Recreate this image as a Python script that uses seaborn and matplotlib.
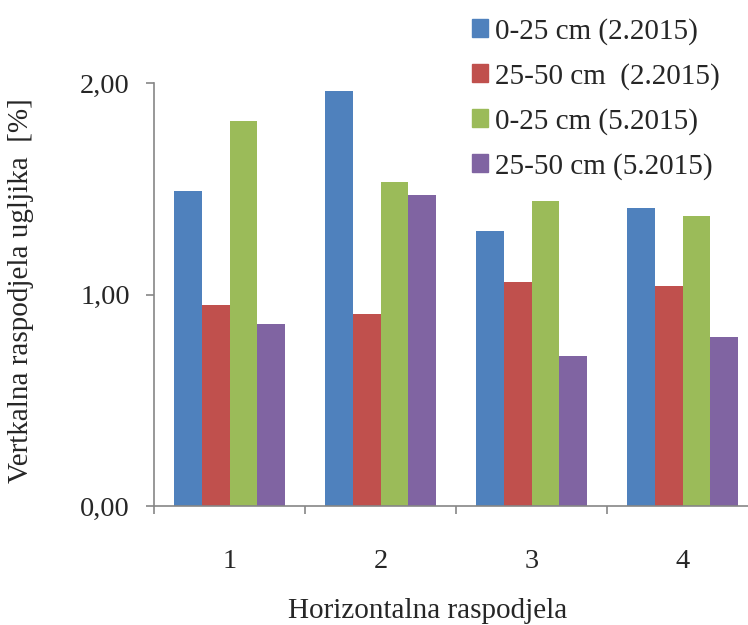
import numpy as np
import pandas as pd
import matplotlib
matplotlib.use('Agg')
import matplotlib.pyplot as plt
import seaborn as sns

# values (%)
categories = ['1', '2', '3', '4']
series_names = ['0-25 cm (2.2015)', '25-50 cm  (2.2015)', '0-25 cm (5.2015)', '25-50 cm (5.2015)']
top_feb = [1.49, 1.96, 1.30, 1.41]
sub_feb = [0.95, 0.91, 1.06, 1.04]
top_may = [1.82, 1.53, 1.44, 1.37]
sub_may = [0.86, 1.47, 0.71, 0.80]
colors = ['#4F81BD', '#C0504D', '#9BBB59', '#8064A2']
ytick_vals = [0, 1, 2]
ytick_labels = ['0,00', '1,00', '2,00']

rows = []
for name, vals in zip(series_names, [top_feb, sub_feb, top_may, sub_may]):
    for c, v in zip(categories, vals):
        rows.append({'kat': c, 'serija': name, 'val': v})
df = pd.DataFrame(rows)

sns.set_style('white')
plt.rcParams['font.family'] = ['Liberation Serif', 'DejaVu Serif']

fig = plt.figure(figsize=(7.48, 6.25), dpi=100)
ax = fig.add_axes([154/748, 0.19, 604/748, 0.6773])
sns.barplot(data=df, x='kat', y='val', hue='serija', hue_order=series_names,
            palette=colors, width=0.735, gap=0, saturation=1, linewidth=0,
            legend=False, ax=ax, errorbar=None)

ax.set_xlim(-0.5, 3.5)
ax.set_ylim(0, 2)
ax.set_yticks(ytick_vals)
ax.set_yticklabels(ytick_labels)
ax.set_xticks(range(len(categories)))
ax.set_xticklabels(categories)
ax.set_xticks(np.arange(-0.5, 4, 1), minor=True)

gray = '#868686'
for s in ['top', 'right']:
    ax.spines[s].set_visible(False)
for s in ['left', 'bottom']:
    ax.spines[s].set_color(gray)
    ax.spines[s].set_linewidth(1.2)
ax.tick_params(axis='y', which='major', direction='out', length=5.5, width=1.2,
               color=gray, labelsize=20.5, pad=12, left=True)
ax.tick_params(axis='x', which='major', length=0, labelsize=20.5, pad=31)
ax.tick_params(axis='x', which='minor', direction='out', length=6, width=1.2,
               color=gray, bottom=True)

ax.set_xlabel('Horizontalna raspodjela', fontsize=21)
ax.xaxis.set_label_coords(0.453, -0.216)
ax.set_ylabel('Vertkalna raspodjela ugljika  [%]', fontsize=21)
ax.yaxis.set_label_coords(-0.199, 0.509)

handles = [plt.Rectangle((0, 0), 1, 1, color=c) for c in colors]
fig.legend(handles, series_names, loc='upper left', bbox_to_anchor=(466/748, 0.981),
           frameon=False, fontsize=21, handlelength=0.56, handleheight=0.56,
           handletextpad=0.22, labelspacing=0.62, borderaxespad=0, borderpad=0.2)

fig.savefig('out.png', dpi=100)
